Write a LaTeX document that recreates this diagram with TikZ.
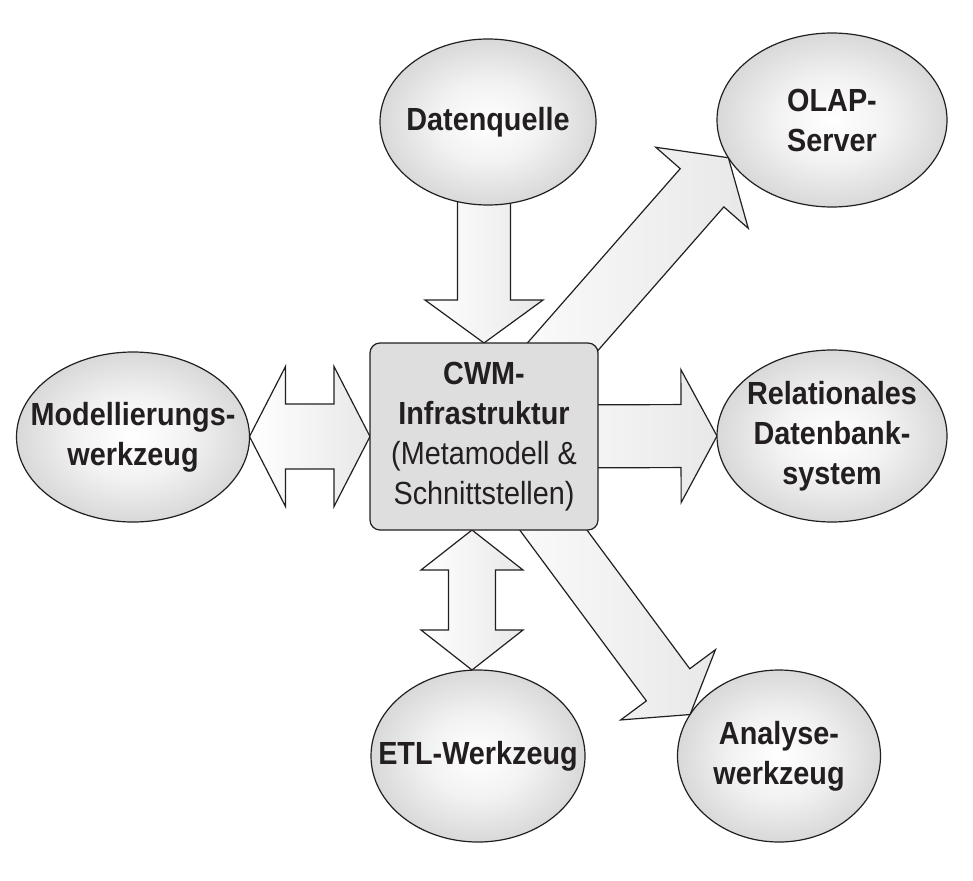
\documentclass[tikz,border=0pt]{standalone}
\usepackage{fontspec}
\setmainfont{Liberation Sans}[FakeStretch=0.9]
\usepackage{tikz}
\usetikzlibrary{calc}
\usetikzlibrary{shapes.geometric}
\usetikzlibrary{backgrounds}
\definecolor{ink}{HTML}{231F20}

\pgfdeclareradialshading{bubbleshade}{\pgfpoint{0bp}{0bp}}{color(0bp)=(white); color(12bp)=(white!95!black); color(25bp)=(white!85!black); color(50bp)=(white!85!black)}

\tikzset{
	bubble/.style={ellipse, draw=ink, line width=1.2pt, shading=bubbleshade, inner sep=0pt, outer sep=0pt},
	bubbletext/.style={align=center, text=ink, font=\fontsize{32}{40}\selectfont\bfseries},
	hub/.style={rectangle, rounded corners=10pt, draw=ink, line width=1.2pt, fill=gray!26, text=ink, align=center, minimum width=228pt, minimum height=187pt, inner sep=0pt, outer sep=0pt, font=\fontsize{32}{40}\selectfont},
	blockarrow/.style={draw=ink, line width=1.2pt, line join=miter, left color=white, right color=gray!18},
}

% tail, tip, shaft half width, head half width, head length
\newcommand{\fatarrow}[5]{%
	\coordinate (fa-h) at ($(#2)!#5!(#1)$);
	\path[blockarrow] ($(#1)!#3!90:(#2)$) -- ($(fa-h)!#3!90:(#2)$) -- ($(fa-h)!#4!90:(#2)$) -- (#2)
		-- ($(fa-h)!#4!-90:(#2)$) -- ($(fa-h)!#3!-90:(#2)$) -- ($(#1)!#3!-90:(#2)$) -- cycle;}
\newcommand{\fatdoublearrow}[5]{%
	\coordinate (fa-a) at ($(#1)!#5!(#2)$);
	\coordinate (fa-b) at ($(#2)!#5!(#1)$);
	\path[blockarrow] (#1) -- ($(fa-a)!#4!90:(#2)$) -- ($(fa-a)!#3!90:(#2)$) -- ($(fa-b)!#3!90:(#2)$) -- ($(fa-b)!#4!90:(#2)$) -- (#2)
		-- ($(fa-b)!#4!-90:(#2)$) -- ($(fa-b)!#3!-90:(#2)$) -- ($(fa-a)!#3!-90:(#2)$) -- ($(fa-a)!#4!-90:(#2)$) -- cycle;}

\begin{document}
\begin{tikzpicture}[x=1pt, y=-1pt]

	\useasboundingbox (0,0) rectangle (973,880);

	\node[hub] (cwm) at (484,436.5) {\textbf{CWM-}\\\textbf{Infrastruktur}\\(Metamodell \&\\Schnittstellen)};

	\node[bubble, minimum width=216pt, minimum height=166pt, label={[bubbletext]center:Datenquelle}] (dq) at (488,122) {};
	\node[bubble, minimum width=230pt, minimum height=174pt, label={[bubbletext]center:OLAP-\\Server}] (olap) at (832,120) {};
	\node[bubble, minimum width=233pt, minimum height=170pt, label={[bubbletext]center:Modellierungs-\\werkzeug}] (model) at (133,437) {};
	\node[bubble, minimum width=230pt, minimum height=172pt, label={[bubbletext]center:Relationales\\Datenbank-\\system}] (rel) at (832,436) {};
	\node[bubble, minimum width=214pt, minimum height=172pt, label={[bubbletext]center:ETL-Werkzeug}] (etl) at (478,756) {};
	\node[bubble, minimum width=203pt, minimum height=172pt, label={[bubbletext]center:Analyse-\\werkzeug}] (ana) at (779,756) {};

	\begin{pgfonlayer}{background}
		\coordinate (dq-tail) at (cwm.north |- dq.center);
		\coordinate (model-tip) at (model.east |- cwm.west);
		\coordinate (etl-tail) at (472,530);
		\coordinate (etl-tip) at (etl-tail |- etl.north);

		\fatarrow{dq-tail}{cwm.north}{26.5pt}{59pt}{43pt}
		\fatarrow{cwm.center}{rel.west}{31.5pt}{66.5pt}{36pt}
		\fatarrow{cwm.center}{olap.200}{29pt}{61.5pt}{40pt}
		\fatarrow{cwm.center}{ana.155}{27pt}{59pt}{37pt}
		\fatdoublearrow{model-tip}{cwm.west}{32.5pt}{70pt}{36pt}
		\fatdoublearrow{etl-tail}{etl-tip}{23.5pt}{51pt}{40pt}
	\end{pgfonlayer}

\end{tikzpicture}
\end{document}
